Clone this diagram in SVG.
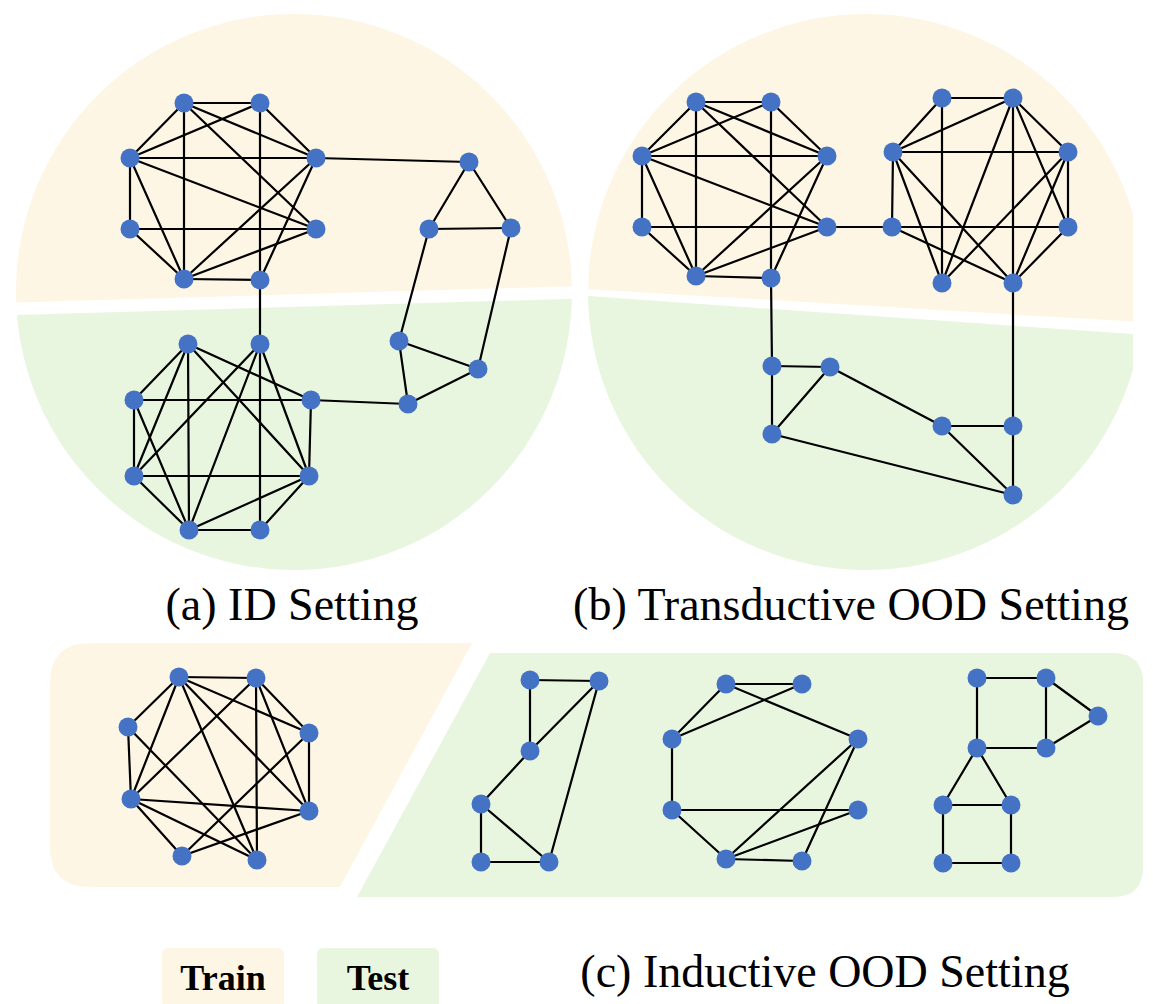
<svg xmlns="http://www.w3.org/2000/svg" width="1153" height="1004" viewBox="0 0 1153 1004">
  <style>
    .train { fill: #FEF6E4; }
    .test { fill: #E9F6DF; }
    .node { fill: #4472C4; }
    .edges line { stroke: #000; stroke-width: 2.2; stroke-linecap: round; }
    .caption { font-family: "Liberation Serif", "Times New Roman", serif; font-size: 46px; fill: #000; text-anchor: middle; }
    .legend { font-family: "Liberation Serif", "Times New Roman", serif; font-size: 36px; font-weight: bold; fill: #000; text-anchor: middle; }
  </style>
  <defs>
    <clipPath id="clipA"><circle cx="294" cy="292" r="278"/></clipPath>
    <clipPath id="clipB"><path d="M588,0 H1133 V1004 H588 Z"/></clipPath>
    <clipPath id="circB"><circle cx="866" cy="292" r="278"/></clipPath>
  </defs>
  <rect width="1153" height="1004" fill="#fff"/>

  <!-- backgrounds: (a) split disc -->
  <g id="bg-a" clip-path="url(#clipA)">
    <path class="train" d="M0,0 H600 V285.5 L17,302.5 L0,303 Z"/>
    <path class="test" d="M0,315.5 L17,315 L600,298 V600 H0 Z"/>
  </g>
  <!-- backgrounds: (b) split disc, trimmed on the right -->
  <g id="bg-b" clip-path="url(#clipB)">
    <g clip-path="url(#circB)">
      <path class="train" d="M560,0 H1160 V323.2 L588,289.3 L560,287.6 Z"/>
      <path class="test" d="M560,294.2 L588,296.1 L1160,336 V600 H560 Z"/>
    </g>
  </g>
  <!-- backgrounds: (c) panels -->
  <path id="bg-c-train" class="train" d="M90,643 H472 L340,887 H90 Q50,887 50,847 V683 Q50,643 90,643 Z"/>
  <path id="bg-c-test" class="test" d="M490,653 H1113 Q1143,653 1143,683 V867 Q1143,897 1113,897 H357 Z"/>

  <!-- connectors -->
  <g id="edges" class="edges">
    <!-- (a) upper cluster -->
    <line x1="184" y1="103" x2="260" y2="103"/>
    <line x1="184" y1="103" x2="130" y2="158"/>
    <line x1="184" y1="103" x2="184" y2="279"/>
    <line x1="184" y1="103" x2="316" y2="158"/>
    <line x1="184" y1="103" x2="316" y2="229"/>
    <line x1="260" y1="103" x2="130" y2="158"/>
    <line x1="260" y1="103" x2="316" y2="158"/>
    <line x1="260" y1="103" x2="260" y2="280"/>
    <line x1="130" y1="158" x2="316" y2="158"/>
    <line x1="130" y1="158" x2="130" y2="229"/>
    <line x1="130" y1="158" x2="316" y2="229"/>
    <line x1="130" y1="158" x2="184" y2="279"/>
    <line x1="130" y1="229" x2="316" y2="229"/>
    <line x1="130" y1="229" x2="184" y2="279"/>
    <line x1="184" y1="279" x2="316" y2="158"/>
    <line x1="184" y1="279" x2="316" y2="229"/>
    <line x1="184" y1="279" x2="260" y2="280"/>
    <line x1="260" y1="280" x2="316" y2="158"/>
    <line x1="316" y1="158" x2="469" y2="162"/>
    <line x1="260" y1="280" x2="260" y2="344"/>
    <!-- (a) lower cluster -->
    <line x1="188" y1="344" x2="134" y2="400"/>
    <line x1="188" y1="344" x2="134" y2="476"/>
    <line x1="188" y1="344" x2="189" y2="530"/>
    <line x1="188" y1="344" x2="311" y2="400"/>
    <line x1="188" y1="344" x2="309" y2="476"/>
    <line x1="260" y1="344" x2="134" y2="476"/>
    <line x1="260" y1="344" x2="189" y2="530"/>
    <line x1="260" y1="344" x2="260" y2="530"/>
    <line x1="260" y1="344" x2="309" y2="476"/>
    <line x1="134" y1="400" x2="311" y2="400"/>
    <line x1="134" y1="400" x2="134" y2="476"/>
    <line x1="134" y1="400" x2="189" y2="530"/>
    <line x1="311" y1="400" x2="309" y2="476"/>
    <line x1="134" y1="476" x2="309" y2="476"/>
    <line x1="134" y1="476" x2="189" y2="530"/>
    <line x1="309" y1="476" x2="189" y2="530"/>
    <line x1="309" y1="476" x2="260" y2="530"/>
    <line x1="189" y1="530" x2="260" y2="530"/>
    <line x1="311" y1="400" x2="408" y2="404"/>
    <!-- (a) ring -->
    <line x1="469" y1="162" x2="429" y2="229"/>
    <line x1="469" y1="162" x2="511" y2="228"/>
    <line x1="429" y1="229" x2="511" y2="228"/>
    <line x1="429" y1="229" x2="399" y2="341"/>
    <line x1="511" y1="228" x2="478" y2="369"/>
    <line x1="399" y1="341" x2="478" y2="369"/>
    <line x1="399" y1="341" x2="408" y2="404"/>
    <line x1="478" y1="369" x2="408" y2="404"/>

    <!-- (b) left cluster -->
    <line x1="696" y1="102" x2="771" y2="102"/>
    <line x1="696" y1="102" x2="642" y2="156"/>
    <line x1="696" y1="102" x2="696" y2="276"/>
    <line x1="696" y1="102" x2="827" y2="156"/>
    <line x1="696" y1="102" x2="827" y2="227"/>
    <line x1="771" y1="102" x2="642" y2="156"/>
    <line x1="771" y1="102" x2="827" y2="156"/>
    <line x1="771" y1="102" x2="771" y2="278"/>
    <line x1="642" y1="156" x2="827" y2="156"/>
    <line x1="642" y1="156" x2="642" y2="227"/>
    <line x1="642" y1="156" x2="827" y2="227"/>
    <line x1="642" y1="156" x2="696" y2="276"/>
    <line x1="642" y1="227" x2="827" y2="227"/>
    <line x1="642" y1="227" x2="696" y2="276"/>
    <line x1="696" y1="276" x2="827" y2="156"/>
    <line x1="696" y1="276" x2="827" y2="227"/>
    <line x1="696" y1="276" x2="771" y2="278"/>
    <line x1="771" y1="278" x2="827" y2="156"/>
    <line x1="827" y1="227" x2="892" y2="227"/>
    <line x1="771" y1="278" x2="772" y2="366"/>
    <!-- (b) right cluster -->
    <line x1="942" y1="98" x2="1013" y2="98"/>
    <line x1="942" y1="98" x2="893" y2="152"/>
    <line x1="942" y1="98" x2="942" y2="283"/>
    <line x1="1013" y1="98" x2="893" y2="152"/>
    <line x1="1013" y1="98" x2="942" y2="283"/>
    <line x1="1013" y1="98" x2="1013" y2="283"/>
    <line x1="1013" y1="98" x2="1068" y2="152"/>
    <line x1="1013" y1="98" x2="1068" y2="227"/>
    <line x1="893" y1="152" x2="1068" y2="152"/>
    <line x1="893" y1="152" x2="892" y2="227"/>
    <line x1="893" y1="152" x2="942" y2="283"/>
    <line x1="893" y1="152" x2="1013" y2="283"/>
    <line x1="1068" y1="152" x2="1068" y2="227"/>
    <line x1="1068" y1="152" x2="942" y2="283"/>
    <line x1="1068" y1="152" x2="1013" y2="283"/>
    <line x1="892" y1="227" x2="1068" y2="227"/>
    <line x1="892" y1="227" x2="1013" y2="283"/>
    <line x1="1068" y1="227" x2="1013" y2="283"/>
    <line x1="1013" y1="283" x2="1013" y2="426"/>
    <!-- (b) lower part -->
    <line x1="772" y1="366" x2="830" y2="367"/>
    <line x1="772" y1="366" x2="772" y2="434"/>
    <line x1="830" y1="367" x2="772" y2="434"/>
    <line x1="830" y1="367" x2="942" y2="426"/>
    <line x1="772" y1="434" x2="1013" y2="495"/>
    <line x1="942" y1="426" x2="1013" y2="426"/>
    <line x1="942" y1="426" x2="1013" y2="495"/>
    <line x1="1013" y1="426" x2="1013" y2="495"/>

    <!-- (c) dense graph -->
    <line x1="179" y1="677" x2="256" y2="678"/>
    <line x1="179" y1="677" x2="128" y2="727"/>
    <line x1="179" y1="677" x2="131" y2="799"/>
    <line x1="179" y1="677" x2="309" y2="733"/>
    <line x1="179" y1="677" x2="309" y2="811"/>
    <line x1="179" y1="677" x2="257" y2="860"/>
    <line x1="256" y1="678" x2="131" y2="799"/>
    <line x1="256" y1="678" x2="257" y2="860"/>
    <line x1="256" y1="678" x2="309" y2="733"/>
    <line x1="256" y1="678" x2="309" y2="811"/>
    <line x1="128" y1="727" x2="131" y2="799"/>
    <line x1="128" y1="727" x2="257" y2="860"/>
    <line x1="309" y1="733" x2="309" y2="811"/>
    <line x1="309" y1="733" x2="182" y2="856"/>
    <line x1="131" y1="799" x2="309" y2="811"/>
    <line x1="131" y1="799" x2="182" y2="856"/>
    <line x1="131" y1="799" x2="257" y2="860"/>
    <line x1="309" y1="811" x2="182" y2="856"/>
    <!-- (c) test graph 1 -->
    <line x1="530" y1="680" x2="599" y2="681"/>
    <line x1="530" y1="680" x2="530" y2="751"/>
    <line x1="599" y1="681" x2="530" y2="751"/>
    <line x1="599" y1="681" x2="549" y2="862"/>
    <line x1="530" y1="751" x2="481" y2="804"/>
    <line x1="481" y1="804" x2="481" y2="862"/>
    <line x1="481" y1="804" x2="549" y2="862"/>
    <line x1="481" y1="862" x2="549" y2="862"/>
    <!-- (c) test graph 2 -->
    <line x1="726" y1="684" x2="802" y2="684"/>
    <line x1="726" y1="684" x2="672" y2="739"/>
    <line x1="726" y1="684" x2="858" y2="739"/>
    <line x1="802" y1="684" x2="672" y2="739"/>
    <line x1="672" y1="739" x2="672" y2="810"/>
    <line x1="672" y1="810" x2="858" y2="810"/>
    <line x1="672" y1="810" x2="726" y2="859"/>
    <line x1="726" y1="859" x2="858" y2="739"/>
    <line x1="726" y1="859" x2="858" y2="810"/>
    <line x1="726" y1="859" x2="802" y2="861"/>
    <line x1="802" y1="861" x2="858" y2="739"/>
    <!-- (c) test graph 3 -->
    <line x1="977" y1="678" x2="1046" y2="678"/>
    <line x1="977" y1="678" x2="977" y2="748"/>
    <line x1="1046" y1="678" x2="1046" y2="748"/>
    <line x1="1046" y1="678" x2="1098" y2="716"/>
    <line x1="1098" y1="716" x2="1046" y2="748"/>
    <line x1="977" y1="748" x2="1046" y2="748"/>
    <line x1="977" y1="748" x2="943" y2="805"/>
    <line x1="977" y1="748" x2="1011" y2="805"/>
    <line x1="943" y1="805" x2="1011" y2="805"/>
    <line x1="943" y1="805" x2="943" y2="863"/>
    <line x1="1011" y1="805" x2="1011" y2="863"/>
    <line x1="943" y1="863" x2="1011" y2="863"/>
  </g>

  <!-- nodes -->
  <g id="nodes">
    <g id="a1"><circle class="node" cx="184" cy="103" r="9.5"/></g>
    <g id="a2"><circle class="node" cx="260" cy="103" r="9.5"/></g>
    <g id="a3"><circle class="node" cx="130" cy="158" r="9.5"/></g>
    <g id="a4"><circle class="node" cx="316" cy="158" r="9.5"/></g>
    <g id="a5"><circle class="node" cx="130" cy="229" r="9.5"/></g>
    <g id="a6"><circle class="node" cx="316" cy="229" r="9.5"/></g>
    <g id="a7"><circle class="node" cx="184" cy="279" r="9.5"/></g>
    <g id="a8"><circle class="node" cx="260" cy="280" r="9.5"/></g>
    <g id="a9"><circle class="node" cx="188" cy="344" r="9.5"/></g>
    <g id="a10"><circle class="node" cx="260" cy="344" r="9.5"/></g>
    <g id="a11"><circle class="node" cx="134" cy="400" r="9.5"/></g>
    <g id="a12"><circle class="node" cx="311" cy="400" r="9.5"/></g>
    <g id="a13"><circle class="node" cx="134" cy="476" r="9.5"/></g>
    <g id="a14"><circle class="node" cx="309" cy="476" r="9.5"/></g>
    <g id="a15"><circle class="node" cx="189" cy="530" r="9.5"/></g>
    <g id="a16"><circle class="node" cx="260" cy="530" r="9.5"/></g>
    <g id="a17"><circle class="node" cx="469" cy="162" r="9.5"/></g>
    <g id="a18"><circle class="node" cx="429" cy="229" r="9.5"/></g>
    <g id="a19"><circle class="node" cx="511" cy="228" r="9.5"/></g>
    <g id="a20"><circle class="node" cx="399" cy="341" r="9.5"/></g>
    <g id="a21"><circle class="node" cx="478" cy="369" r="9.5"/></g>
    <g id="a22"><circle class="node" cx="408" cy="404" r="9.5"/></g>

    <g id="b1"><circle class="node" cx="696" cy="102" r="9.5"/></g>
    <g id="b2"><circle class="node" cx="771" cy="102" r="9.5"/></g>
    <g id="b3"><circle class="node" cx="642" cy="156" r="9.5"/></g>
    <g id="b4"><circle class="node" cx="827" cy="156" r="9.5"/></g>
    <g id="b5"><circle class="node" cx="642" cy="227" r="9.5"/></g>
    <g id="b6"><circle class="node" cx="827" cy="227" r="9.5"/></g>
    <g id="b7"><circle class="node" cx="696" cy="276" r="9.5"/></g>
    <g id="b8"><circle class="node" cx="771" cy="278" r="9.5"/></g>
    <g id="b9"><circle class="node" cx="942" cy="98" r="9.5"/></g>
    <g id="b10"><circle class="node" cx="1013" cy="98" r="9.5"/></g>
    <g id="b11"><circle class="node" cx="893" cy="152" r="9.5"/></g>
    <g id="b12"><circle class="node" cx="1068" cy="152" r="9.5"/></g>
    <g id="b13"><circle class="node" cx="892" cy="227" r="9.5"/></g>
    <g id="b14"><circle class="node" cx="1068" cy="227" r="9.5"/></g>
    <g id="b15"><circle class="node" cx="942" cy="283" r="9.5"/></g>
    <g id="b16"><circle class="node" cx="1013" cy="283" r="9.5"/></g>
    <g id="b17"><circle class="node" cx="772" cy="366" r="9.5"/></g>
    <g id="b18"><circle class="node" cx="830" cy="367" r="9.5"/></g>
    <g id="b19"><circle class="node" cx="772" cy="434" r="9.5"/></g>
    <g id="b20"><circle class="node" cx="942" cy="426" r="9.5"/></g>
    <g id="b21"><circle class="node" cx="1013" cy="426" r="9.5"/></g>
    <g id="b22"><circle class="node" cx="1013" cy="495" r="9.5"/></g>

    <g id="c1"><circle class="node" cx="179" cy="677" r="9.5"/></g>
    <g id="c2"><circle class="node" cx="256" cy="678" r="9.5"/></g>
    <g id="c3"><circle class="node" cx="128" cy="727" r="9.5"/></g>
    <g id="c4"><circle class="node" cx="309" cy="733" r="9.5"/></g>
    <g id="c5"><circle class="node" cx="131" cy="799" r="9.5"/></g>
    <g id="c6"><circle class="node" cx="309" cy="811" r="9.5"/></g>
    <g id="c7"><circle class="node" cx="182" cy="856" r="9.5"/></g>
    <g id="c8"><circle class="node" cx="257" cy="860" r="9.5"/></g>
    <g id="c9"><circle class="node" cx="530" cy="680" r="9.5"/></g>
    <g id="c10"><circle class="node" cx="599" cy="681" r="9.5"/></g>
    <g id="c11"><circle class="node" cx="530" cy="751" r="9.5"/></g>
    <g id="c12"><circle class="node" cx="481" cy="804" r="9.5"/></g>
    <g id="c13"><circle class="node" cx="481" cy="862" r="9.5"/></g>
    <g id="c14"><circle class="node" cx="549" cy="862" r="9.5"/></g>
    <g id="c15"><circle class="node" cx="726" cy="684" r="9.5"/></g>
    <g id="c16"><circle class="node" cx="802" cy="684" r="9.5"/></g>
    <g id="c17"><circle class="node" cx="672" cy="739" r="9.5"/></g>
    <g id="c18"><circle class="node" cx="858" cy="739" r="9.5"/></g>
    <g id="c19"><circle class="node" cx="672" cy="810" r="9.5"/></g>
    <g id="c20"><circle class="node" cx="858" cy="810" r="9.5"/></g>
    <g id="c21"><circle class="node" cx="726" cy="859" r="9.5"/></g>
    <g id="c22"><circle class="node" cx="802" cy="861" r="9.5"/></g>
    <g id="c23"><circle class="node" cx="977" cy="678" r="9.5"/></g>
    <g id="c24"><circle class="node" cx="1046" cy="678" r="9.5"/></g>
    <g id="c25"><circle class="node" cx="1098" cy="716" r="9.5"/></g>
    <g id="c26"><circle class="node" cx="977" cy="748" r="9.5"/></g>
    <g id="c27"><circle class="node" cx="1046" cy="748" r="9.5"/></g>
    <g id="c28"><circle class="node" cx="943" cy="805" r="9.5"/></g>
    <g id="c29"><circle class="node" cx="1011" cy="805" r="9.5"/></g>
    <g id="c30"><circle class="node" cx="943" cy="863" r="9.5"/></g>
    <g id="c31"><circle class="node" cx="1011" cy="863" r="9.5"/></g>
  </g>

  <!-- captions -->
  <text class="caption" x="292" y="620">(a) ID Setting</text>
  <text class="caption" x="851" y="620">(b) Transductive OOD Setting</text>
  <text class="caption" x="825" y="987">(c) Inductive OOD Setting</text>

  <!-- legend -->
  <g id="legend-train">
    <rect class="train" x="162" y="948" width="122" height="60" rx="6"/>
    <text class="legend" x="223" y="990">Train</text>
  </g>
  <g id="legend-test">
    <rect class="test" x="317" y="948" width="122" height="60" rx="6"/>
    <text class="legend" x="378" y="990">Test</text>
  </g>
</svg>
